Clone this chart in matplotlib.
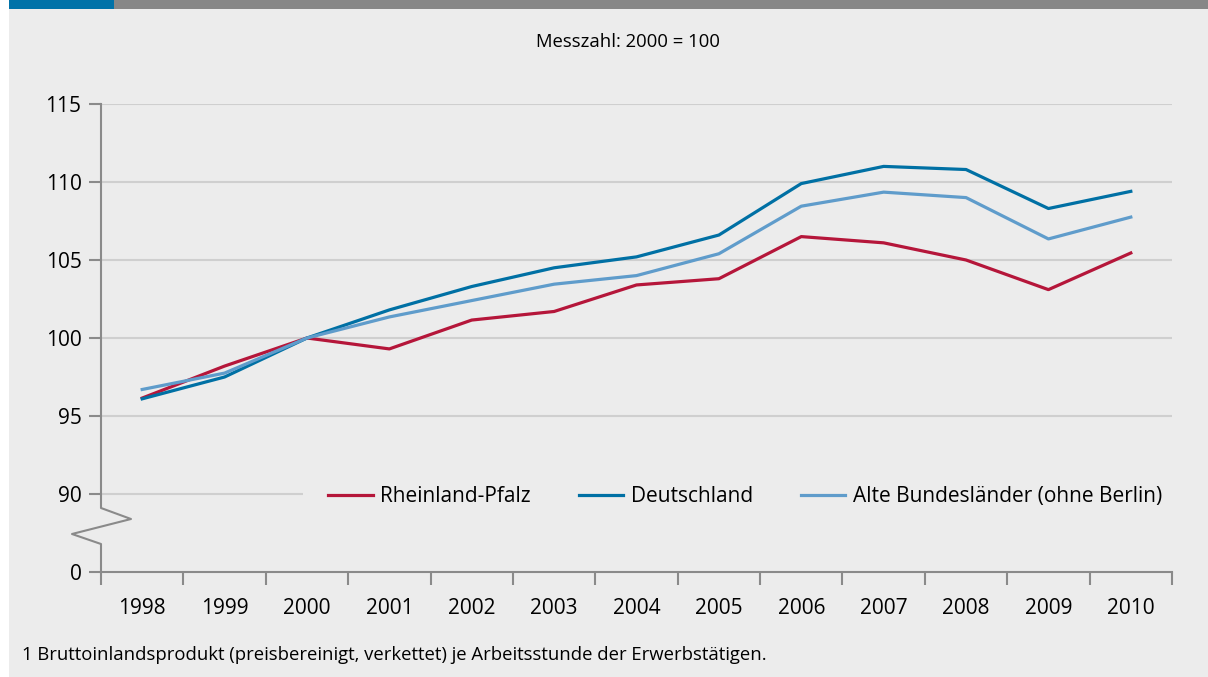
import matplotlib
matplotlib.use("Agg")
import matplotlib.pyplot as plt
from matplotlib.patches import Rectangle
from matplotlib.lines import Line2D

# data (index 2000 = 100)
years = ["1998", "1999", "2000", "2001", "2002", "2003", "2004",
         "2005", "2006", "2007", "2008", "2009", "2010"]
rlp = [96.15, 98.2, 100.0, 99.3, 101.15, 101.7, 103.4, 103.8, 106.5, 106.1, 105.0, 103.1, 105.45]
de = [96.1, 97.5, 100.0, 101.8, 103.3, 104.5, 105.2, 106.6, 109.9, 111.0, 110.8, 108.3, 109.4]
abl = [96.7, 97.75, 100.0, 101.35, 102.4, 103.45, 104.0, 105.4, 108.45, 109.35, 109.0, 106.35, 107.75]
names = ["Rheinland-Pfalz", "Deutschland", "Alte Bundesländer (ohne Berlin)"]
colors = ["#b5163a", "#0070a4", "#5f9ccb"]
ytick_vals = [0, 90, 95, 100, 105, 110, 115]

bg = "#ececec"
axcol = "#8a8a8a"
fs = 13.3      # title / footnote
fs_big = 15    # ticks / legend
plt.rcParams["font.family"] = ["Open Sans", "DejaVu Sans"]

fig = plt.figure(figsize=(12.08, 6.77), dpi=100)
W, H = 1208, 677
# panel background + top bar
fig.patches.append(Rectangle((9 / W, 0), 1 - 9 / W, 1 - 9 / H, transform=fig.transFigure,
                             facecolor=bg, edgecolor="none", zorder=-2))
fig.patches.append(Rectangle((9 / W, 1 - 9 / H), 105 / W, 9 / H, transform=fig.transFigure,
                             facecolor="#0072a8", edgecolor="none", zorder=-2))
fig.patches.append(Rectangle((114 / W, 1 - 9 / H), 1 - 114 / W, 9 / H, transform=fig.transFigure,
                             facecolor="#878787", edgecolor="none", zorder=-2))

ax = fig.add_axes([101 / W, 1 - 572 / H, (1172 - 101) / W, (572 - 104) / H])
ax.set_facecolor("none")


# broken axis: 0 sits one step below 90
def to_pos(v):
    return (v - 85) / 5.0 if v >= 90 else v


x = list(range(len(years)))
for vals, name, c in zip([rlp, de, abl], names, colors):
    ax.plot(x, [to_pos(v) for v in vals], color=c, lw=2.3, label=name, zorder=3)

ax.set_xlim(-0.5, len(years) - 0.5)
ax.set_ylim(0, 6)
ax.set_yticks([to_pos(v) for v in ytick_vals])
ax.set_yticklabels([str(v) for v in ytick_vals], fontsize=fs_big)
ax.set_xticks(x)
ax.set_xticklabels(years, fontsize=fs_big)
ax.set_xticks([i - 0.5 for i in range(len(years) + 1)], minor=True)
ax.tick_params(axis="x", which="major", length=0, pad=19, colors="black")
ax.tick_params(axis="x", which="minor", length=9, width=1.5, color=axcol, direction="out")
ax.tick_params(axis="y", length=9, width=1.5, color=axcol, pad=5, labelcolor="black")

for t in ax.get_yticks()[1:]:
    ax.axhline(t, color="#cfcfcf", lw=1.5, zorder=1)

for s in ["top", "right", "left"]:
    ax.spines[s].set_visible(False)
ax.spines["bottom"].set_color(axcol)
ax.spines["bottom"].set_linewidth(1.5)

# left axis line with break zigzag (axes fraction)
ax.add_line(Line2D([0, 0, 30 / 1071, -29 / 1071, 0, 0],
                   [1, (572 - 508) / 468, (572 - 519) / 468, (572 - 534) / 468, (572 - 544) / 468, 0],
                   transform=ax.transAxes, color=axcol, lw=1.5, clip_on=False, zorder=2))

leg = ax.legend(loc="center right", bbox_to_anchor=(1.014, 1 / 6 - 0.005), ncol=3, fontsize=fs_big,
                frameon=True, facecolor=bg, edgecolor="none", framealpha=1,
                handlelength=2.15, handletextpad=0.35, columnspacing=2.3,
                borderpad=1.2, borderaxespad=0)
leg.get_frame().set_boxstyle("square", pad=0)
leg.set_zorder(2)

fig.text(628 / W, 1 - 42 / H, "Messzahl: 2000 = 100", fontsize=fs, ha="center", va="center")
fig.text(22 / W, 1 - 655 / H, "1 Bruttoinlandsprodukt (preisbereinigt, verkettet) je Arbeitsstunde der Erwerbstätigen.",
         fontsize=fs, ha="left", va="center")

fig.savefig("out.png", dpi=100, facecolor="white")
